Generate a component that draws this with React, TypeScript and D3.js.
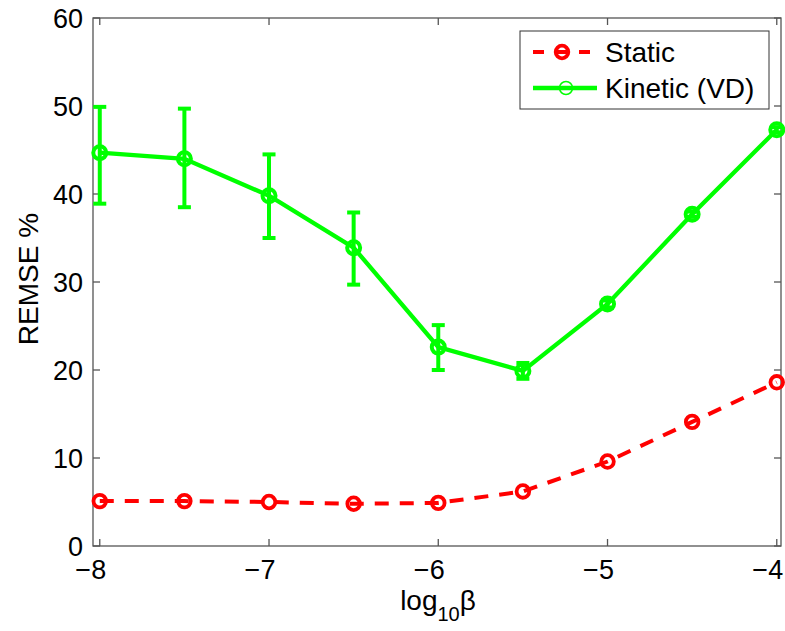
import React from "react";
import * as d3 from "d3";

const xs = [-8, -7.5, -7, -6.5, -6, -5.5, -5, -4.5, -4];
const staticVals = [5.1, 5.1, 5.0, 4.8, 4.9, 6.2, 9.6, 14.1, 18.6];
const kineticVals = [44.7, 44.0, 39.8, 33.9, 22.6, 19.9, 27.5, 37.7, 47.3];
const kineticErrLower = [5.8, 5.5, 4.8, 4.2, 2.6, 0.9, 0.4, 0.3, 0.3];
const kineticErrUpper = [5.2, 5.7, 4.7, 4.0, 2.5, 0.9, 0.4, 0.3, 0.3];
const xTicks = [-8, -7, -6, -5, -4];
const yTicks = [0, 10, 20, 30, 40, 50, 60];
const legendLabels = ["Static", "Kinetic (VD)"];

const W = 785;
const H = 631;
const L = 93, R = 781, T = 18, B = 546;
const FONT = "'Liberation Sans', Arial, Helvetica, sans-serif";
const RED = "#ff0000";
const GREEN = "#00ff00";
const AXIS = "#555555";

export default function App() {
  const x = d3.scaleLinear().domain([-8.04, -3.975]).range([L, R]);
  const y = d3.scaleLinear().domain([0, 60]).range([B, T]);
  const line = d3
    .line<number>()
    .x((_, i) => x(xs[i]))
    .y((d) => y(d));
  const tick = 7;

  return (
    <svg
      width={W}
      height={H}
      style={{ position: "absolute", left: 0, top: 0, background: "#fff" }}
      fontFamily={FONT}
    >
      <rect x={0} y={0} width={W} height={H} fill="#fff" />
      {/* axes box */}
      <rect x={L} y={T} width={R - L} height={B - T} fill="none" stroke={AXIS} strokeWidth={1.3} />
      {xTicks.map((t) => (
        <g key={"xt" + t}>
          <line x1={x(t)} x2={x(t)} y1={B} y2={B - tick} stroke={AXIS} strokeWidth={1.3} />
          <line x1={x(t)} x2={x(t)} y1={T} y2={T + tick} stroke={AXIS} strokeWidth={1.3} />
          <text x={x(t) - 9} y={579} textAnchor="middle" fontSize={27} fill="#000">
            {"\u2212" + Math.abs(t)}
          </text>
        </g>
      ))}
      {yTicks.map((t) => (
        <g key={"yt" + t}>
          <line x1={L} x2={L + tick} y1={y(t)} y2={y(t)} stroke={AXIS} strokeWidth={1.3} />
          <line x1={R} x2={R - tick} y1={y(t)} y2={y(t)} stroke={AXIS} strokeWidth={1.3} />
          <text x={83} y={y(t) + 9.5} textAnchor="end" fontSize={27} fill="#000">
            {t}
          </text>
        </g>
      ))}
      {/* axis labels */}
      <text x={438} y={610} textAnchor="middle" fontSize={28} fill="#000">
        log
        <tspan fontSize={20} dy={11}>10</tspan>
        <tspan dy={-11}>β</tspan>
      </text>
      <text
        transform={`translate(38, 279) rotate(-90)`}
        textAnchor="middle"
        fontSize={28}
        fill="#000"
      >
        REMSE %
      </text>

      {/* static series */}
      <path
        d={line(staticVals) || ""}
        fill="none"
        stroke={RED}
        strokeWidth={4}
        strokeDasharray="14,11"
      />
      {staticVals.map((v, i) => (
        <circle key={"s" + i} cx={x(xs[i])} cy={y(v)} r={6.3} fill="none" stroke={RED} strokeWidth={3.8} />
      ))}

      {/* kinetic series */}
      {kineticVals.map((v, i) => {
        const cx = x(xs[i]);
        const lo = y(v - kineticErrLower[i]);
        const hi = y(v + kineticErrUpper[i]);
        return (
          <g key={"e" + i} stroke={GREEN} strokeWidth={4}>
            <line x1={cx} x2={cx} y1={lo} y2={hi} />
            <line x1={cx - 6.5} x2={cx + 6.5} y1={lo} y2={lo} />
            <line x1={cx - 6.5} x2={cx + 6.5} y1={hi} y2={hi} />
          </g>
        );
      })}
      <path d={line(kineticVals) || ""} fill="none" stroke={GREEN} strokeWidth={4.3} />
      {kineticVals.map((v, i) => (
        <circle key={"k" + i} cx={x(xs[i])} cy={y(v)} r={6.5} fill="none" stroke={GREEN} strokeWidth={4} />
      ))}

      {/* legend */}
      <rect x={520} y={31} width={249} height={78} fill="#fff" stroke="#333" strokeWidth={1} />
      <line x1={533} x2={597} y1={52} y2={52} stroke={RED} strokeWidth={4} strokeDasharray="11,12" />
      <circle cx={562} cy={52} r={6.3} fill="none" stroke={RED} strokeWidth={3.8} />
      <text x={605} y={62} fontSize={28} fill="#000">{legendLabels[0]}</text>
      <line x1={533} x2={597} y1={88} y2={88} stroke={GREEN} strokeWidth={4.3} />
      <circle cx={566} cy={88} r={6.5} fill="none" stroke={GREEN} strokeWidth={1.5} />
      <text x={605} y={98} fontSize={28} fill="#000">{legendLabels[1]}</text>
    </svg>
  );
}
